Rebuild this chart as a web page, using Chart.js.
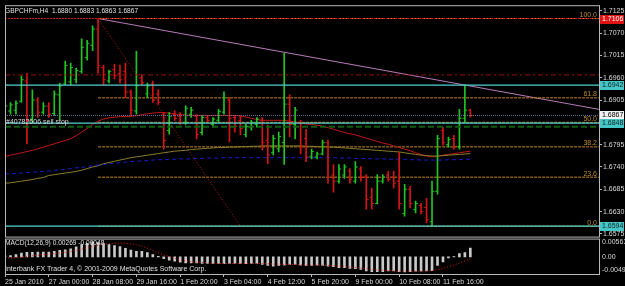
<!DOCTYPE html>
<html>
<head>
<meta charset="utf-8">
<script src="https://cdn.jsdelivr.net/npm/chart.js@4.4.1/dist/chart.umd.min.js"></script>
<style>
  html, body { margin: 0; padding: 0; background: #000; }
  canvas { display: block; }
</style>
</head>
<body>
<canvas id="mt4Chart" width="625" height="286"></canvas>
<script>
// GBPCHFm H4 bars (index 0 = 25 Jan 2010)
const symbolName = 'GBPCHFm,H4';
const barOpen = [
    1.6865, 1.6878, 1.6880, 1.6902, 1.6952, 1.6858, 1.6905, 1.6875, 1.6890, 1.6872,
    1.6918, 1.6945, 1.6950, 1.6955, 1.6975, 1.7010, 1.7040, 1.7080, 1.6985, 1.6952,
    1.6980, 1.6970, 1.6975, 1.6925, 1.6878, 1.6960, 1.6920, 1.6945, 1.6920, 1.6870,
    1.6830, 1.6870, 1.6865, 1.6850, 1.6870, 1.6865, 1.6825, 1.6862, 1.6845, 1.6855,
    1.6875, 1.6905, 1.6862, 1.6855, 1.6820, 1.6838, 1.6845, 1.6855, 1.6805, 1.6775,
    1.6785, 1.6800, 1.6895, 1.6845, 1.6850, 1.6810, 1.6765, 1.6765, 1.6772, 1.6800,
    1.6720, 1.6705, 1.6720, 1.6730, 1.6705, 1.6735, 1.6715, 1.6665, 1.6650, 1.6705,
    1.6720, 1.6715, 1.6705, 1.6625, 1.6685, 1.6635, 1.6645, 1.6640, 1.6605, 1.6680,
    1.6830, 1.6795, 1.6810, 1.6790, 1.6860, 1.6880
];
const barHigh = [
    1.6899, 1.6899, 1.6903, 1.6964, 1.6971, 1.6930, 1.6911, 1.6899, 1.6899, 1.6928,
    1.6947, 1.7001, 1.6996, 1.6984, 1.7056, 1.7052, 1.7088, 1.7106, 1.6991, 1.6979,
    1.6993, 1.6991, 1.6996, 1.6930, 1.7025, 1.6967, 1.6947, 1.6952, 1.6930, 1.6874,
    1.6874, 1.6879, 1.6874, 1.6891, 1.6887, 1.6870, 1.6867, 1.6867, 1.6862, 1.6882,
    1.6925, 1.6911, 1.6867, 1.6867, 1.6845, 1.6855, 1.6862, 1.6862, 1.6843, 1.6818,
    1.6826, 1.7020, 1.6918, 1.6887, 1.6855, 1.6833, 1.6784, 1.6777, 1.6806, 1.6806,
    1.6746, 1.6746, 1.6746, 1.6736, 1.6753, 1.6741, 1.6721, 1.6688, 1.6721, 1.6721,
    1.6729, 1.6729, 1.6777, 1.6697, 1.6692, 1.6656, 1.6651, 1.6663, 1.6705, 1.6818,
    1.6838, 1.6814, 1.6818, 1.6882, 1.6942, 1.6883
];
const barLow = [
    1.6857, 1.6870, 1.6870, 1.6899, 1.6797, 1.6850, 1.6862, 1.6870, 1.6862, 1.6867,
    1.6857, 1.6942, 1.6942, 1.6947, 1.6971, 1.7003, 1.7027, 1.6971, 1.6942, 1.6947,
    1.6957, 1.6947, 1.6911, 1.6867, 1.6870, 1.6942, 1.6911, 1.6899, 1.6894, 1.6784,
    1.6821, 1.6855, 1.6845, 1.6845, 1.6862, 1.6809, 1.6819, 1.6850, 1.6838, 1.6850,
    1.6870, 1.6802, 1.6826, 1.6819, 1.6814, 1.6831, 1.6838, 1.6782, 1.6748, 1.6770,
    1.6777, 1.6746, 1.6814, 1.6809, 1.6772, 1.6753, 1.6760, 1.6760, 1.6770, 1.6700,
    1.6678, 1.6700, 1.6712, 1.6700, 1.6700, 1.6705, 1.6636, 1.6636, 1.6649, 1.6700,
    1.6705, 1.6688, 1.6636, 1.6619, 1.6639, 1.6627, 1.6624, 1.6602, 1.6594, 1.6673,
    1.6794, 1.6789, 1.6784, 1.6784, 1.6850, 1.6863
];
const barClose = [
    1.6890, 1.6893, 1.6897, 1.6955, 1.6855, 1.6905, 1.6875, 1.6890, 1.6870, 1.6920,
    1.6940, 1.6990, 1.6985, 1.6978, 1.7035, 1.7045, 1.7080, 1.6990, 1.6955, 1.6975,
    1.6965, 1.6955, 1.6925, 1.6880, 1.6940, 1.6948, 1.6940, 1.6905, 1.6900, 1.6805,
    1.6865, 1.6860, 1.6850, 1.6885, 1.6880, 1.6820, 1.6862, 1.6855, 1.6858, 1.6877,
    1.6910, 1.6860, 1.6840, 1.6835, 1.6840, 1.6850, 1.6858, 1.6800, 1.6770, 1.6810,
    1.6815, 1.6895, 1.6845, 1.6880, 1.6790, 1.6765, 1.6778, 1.6772, 1.6800, 1.6715,
    1.6705, 1.6735, 1.6740, 1.6710, 1.6740, 1.6715, 1.6660, 1.6650, 1.6705, 1.6715,
    1.6710, 1.6700, 1.6650, 1.6685, 1.6650, 1.6650, 1.6630, 1.6610, 1.6680, 1.6810,
    1.6800, 1.6808, 1.6790, 1.6860, 1.6880, 1.6867
];

// Moving averages
const maRed = [
    1.6766, 1.6769, 1.6772, 1.6775, 1.6778, 1.6781, 1.6785, 1.6789, 1.6793, 1.6797,
    1.6801, 1.6805, 1.6810, 1.6817, 1.6826, 1.6835, 1.6845, 1.6853, 1.6858, 1.6861,
    1.6863, 1.6864, 1.6864, 1.6865, 1.6866, 1.6869, 1.6871, 1.6873, 1.6874, 1.6874,
    1.6873, 1.6871, 1.6869, 1.6868, 1.6867, 1.6867, 1.6867, 1.6867, 1.6867, 1.6867,
    1.6867, 1.6867, 1.6867, 1.6866, 1.6863, 1.6860, 1.6857, 1.6855, 1.6855, 1.6855,
    1.6855, 1.6855, 1.6853, 1.6851, 1.6849, 1.6846, 1.6845, 1.6843, 1.6841, 1.6837,
    1.6833, 1.6829, 1.6825, 1.6822, 1.6819, 1.6815, 1.6811, 1.6807, 1.6803, 1.6799,
    1.6796, 1.6792, 1.6788, 1.6784, 1.6780, 1.6775, 1.6771, 1.6767, 1.6765, 1.6766,
    1.6769, 1.6771, 1.6773, 1.6775, 1.6777, 1.6779
];
const maOlive = [
    1.6700, 1.6701, 1.6703, 1.6705, 1.6707, 1.6709, 1.6712, 1.6714, 1.6719, 1.6721,
    1.6723, 1.6725, 1.6727, 1.6729, 1.6732, 1.6736, 1.6740, 1.6743, 1.6748, 1.6751,
    1.6754, 1.6757, 1.6760, 1.6763, 1.6765, 1.6767, 1.6769, 1.6771, 1.6773, 1.6775,
    1.6777, 1.6779, 1.6780, 1.6781, 1.6783, 1.6784, 1.6785, 1.6786, 1.6787, 1.6788,
    1.6788, 1.6789, 1.6789, 1.6790, 1.6790, 1.6791, 1.6791, 1.6792, 1.6792, 1.6792,
    1.6792, 1.6792, 1.6792, 1.6792, 1.6792, 1.6791, 1.6791, 1.6790, 1.6790, 1.6789,
    1.6789, 1.6788, 1.6787, 1.6786, 1.6785, 1.6784, 1.6783, 1.6782, 1.6781, 1.6780,
    1.6779, 1.6778, 1.6777, 1.6775, 1.6773, 1.6771, 1.6769, 1.6768, 1.6767, 1.6767,
    1.6768, 1.6769, 1.6770, 1.6771, 1.6772, 1.6773
];
const maBlue = [
    1.6723, 1.6723, 1.6724, 1.6725, 1.6726, 1.6727, 1.6728, 1.6729, 1.6730, 1.6731,
    1.6733, 1.6734, 1.6736, 1.6738, 1.6739, 1.6741, 1.6743, 1.6745, 1.6746, 1.6748,
    1.6749, 1.6750, 1.6752, 1.6753, 1.6754, 1.6755, 1.6756, 1.6757, 1.6758, 1.6758,
    1.6759, 1.6759, 1.6760, 1.6760, 1.6760, 1.6761, 1.6761, 1.6762, 1.6762, 1.6762,
    1.6763, 1.6763, 1.6763, 1.6763, 1.6763, 1.6763, 1.6763, 1.6763, 1.6763, 1.6763,
    1.6763, 1.6763, 1.6763, 1.6763, 1.6763, 1.6763, 1.6763, 1.6763, 1.6763, 1.6763,
    1.6763, 1.6762, 1.6762, 1.6762, 1.6761, 1.6761, 1.6761, 1.6760, 1.6760, 1.6760,
    1.6759, 1.6759, 1.6759, 1.6759, 1.6758, 1.6758, 1.6757, 1.6757, 1.6757, 1.6757,
    1.6757, 1.6758, 1.6758, 1.6758, 1.6759, 1.6759
];

// MACD(12,26,9): histogram and signal
const macdHist = [
    0.0003, 0.0004, 0.0007, 0.0012, 0.0014, 0.0014, 0.0015, 0.0015, 0.0015, 0.0017,
    0.0020, 0.0022, 0.0025, 0.0031, 0.0038, 0.0042, 0.0046, 0.0044, 0.0041, 0.0038,
    0.0035, 0.0032, 0.0026, 0.0021, 0.0017, 0.0017, 0.0013, 0.0007, 0.0002, -0.0005,
    -0.0010, -0.0013, -0.0016, -0.0018, -0.0018, -0.0018, -0.0020, -0.0020, -0.0020, -0.0020,
    -0.0021, -0.0020, -0.0020, -0.0020, -0.0021, -0.0020, -0.0020, -0.0023, -0.0026, -0.0028,
    -0.0026, -0.0025, -0.0023, -0.0023, -0.0025, -0.0026, -0.0026, -0.0025, -0.0026, -0.0028,
    -0.0030, -0.0033, -0.0033, -0.0035, -0.0036, -0.0038, -0.0043, -0.0045, -0.0045, -0.0045,
    -0.0043, -0.0043, -0.0045, -0.0046, -0.0045, -0.0044, -0.0044, -0.0043, -0.0042, -0.0026,
    -0.0015, -0.0003, 0.0001, 0.0010, 0.0013, 0.00269
];
const macdSignal = [
    -0.0003, -0.0003, -0.0002, -0.0001, 0.0002, 0.0004, 0.0005, 0.0007, 0.0009, 0.0010,
    0.0012, 0.0014, 0.0017, 0.0020, 0.0024, 0.0028, 0.0032, 0.0036, 0.0038, 0.0041,
    0.0042, 0.0042, 0.0042, 0.0040, 0.0037, 0.0033, 0.0027, 0.0020, 0.0013, 0.0006,
    0.0001, -0.0004, -0.0009, -0.0012, -0.0015, -0.0016, -0.0017, -0.0018, -0.0019, -0.0020,
    -0.0020, -0.0020, -0.0020, -0.0020, -0.0020, -0.0020, -0.0020, -0.0020, -0.0021, -0.0022,
    -0.0022, -0.0023, -0.0023, -0.0023, -0.0024, -0.0024, -0.0025, -0.0025, -0.0025, -0.0026,
    -0.0027, -0.0028, -0.0029, -0.0031, -0.0032, -0.0034, -0.0036, -0.0038, -0.0040, -0.0041,
    -0.0042, -0.0043, -0.0044, -0.0044, -0.0044, -0.0044, -0.0044, -0.0043, -0.0042, -0.0039,
    -0.0035, -0.0030, -0.0025, -0.0019, -0.0012, -0.00048
];

// Axis labels
const timeTickBars = [0, 8, 16, 24, 32, 40, 48, 56, 64, 72, 80];
const timeLabels = ['25 Jan 2010', '27 Jan 00:00', '28 Jan 08:00', '29 Jan 16:00', '1 Feb 20:00',
    '3 Feb 04:00', '4 Feb 12:00', '5 Feb 20:00', '9 Feb 00:00', '10 Feb 08:00', '11 Feb 16:00'];
const priceTicks = [1.6575, 1.6630, 1.6685, 1.6740, 1.6795, 1.6850, 1.6905, 1.6960, 1.7015, 1.7070, 1.7125];
const macdTicks = [-0.00493, 0, 0.00563];

// Objects on the chart
const fibLevels = [0, 23.6, 38.2, 50, 61.8, 100];
const fibFrom = { bar: 17, price: 1.7106 };
const fibTo = { bar: 43, price: 1.6594 };
const trendFrom = { bar: 17, price: 1.7106 };
const trendTo = { bar: 84, price: 1.6942 };
const redLevel = 1.7106;
const dashLevel = 1.6967;
const cyanLevels = [1.6942, 1.6848, 1.6594];
const stopLevel = 1.6839;
const orderText = '#40782606 sell stop';

// Scale limits
const X_MIN = 0, X_MAX = 108.5;
const PRICE_MIN = 1.65684, PRICE_MAX = 1.71388;
const MACD_MIN = -0.00523, MACD_MAX = 0.00623;

const UP = '#21c421', DOWN = '#d41515';
const FONT = '"Liberation Sans", Arial, sans-serif';
const lastBar = barClose.length - 1;
const bidPrice = barClose[lastBar];
const barColors = barClose.map((c, i) => c >= barOpen[i] ? UP : DOWN);

// Helper for straight line datasets
function segment(x1, y1, x2, y2, color, dash, width, order) {
    return {
        type: 'line', yAxisID: 'y',
        data: [{ x: x1, y: y1 }, { x: x2, y: y2 }],
        borderColor: color, borderWidth: width || 1, borderDash: dash || [],
        pointRadius: 0, order: order || 3
    };
}

const datasets = [];

// Horizontal lines (on top of bars)
datasets.push(segment(X_MIN, redLevel, X_MAX, redLevel, '#c81414', [2, 1], 1, 2));
datasets.push(segment(X_MIN, dashLevel, X_MAX, dashLevel, '#9a1010', [5, 3, 2, 3], 1, 2));
cyanLevels.forEach(v => datasets.push(segment(X_MIN, v, X_MAX, v, '#52d2d2', [], 1.2, 2)));
datasets.push(segment(X_MIN, bidPrice, X_MAX, bidPrice, '#6a7598', [1, 1], 1, 2));
datasets.push(segment(X_MIN, stopLevel, X_MAX, stopLevel, '#0f5f0f', [6, 3], 2, 3));

// Fibonacci retracement
const fibRange = fibFrom.price - fibTo.price;
fibLevels.forEach(l => {
    const p = fibTo.price + fibRange * l / 100;
    datasets.push(segment(fibFrom.bar, p, X_MAX, p, '#c4871a', [3, 1], 1, 8));
});
datasets.push(segment(fibFrom.bar, fibFrom.price, fibTo.bar, fibTo.price, '#c01818', [1, 2], 1, 8));

// Trend line, drawn as a ray to the right edge
const trendSlope = (trendTo.price - trendFrom.price) / (trendTo.bar - trendFrom.bar);
datasets.push(segment(trendFrom.bar, trendFrom.price, X_MAX,
    trendFrom.price + trendSlope * (X_MAX - trendFrom.bar), '#b77ab7', [], 1, 8));

// Moving averages
datasets.push({ type: 'line', yAxisID: 'y', data: maBlue.map((v, i) => ({ x: i, y: v })),
    borderColor: '#1a1ad0', borderWidth: 1, borderDash: [4, 3], pointRadius: 0, order: 7 });
datasets.push({ type: 'line', yAxisID: 'y', data: maOlive.map((v, i) => ({ x: i, y: v })),
    borderColor: '#8a7d2c', borderWidth: 1, pointRadius: 0, order: 7 });
datasets.push({ type: 'line', yAxisID: 'y', data: maRed.map((v, i) => ({ x: i, y: v })),
    borderColor: '#c01818', borderWidth: 1, pointRadius: 0, order: 7 });

// OHLC bars: high-low stem plus open/close ticks
datasets.push({ type: 'bar', yAxisID: 'y', grouped: false, barThickness: 1,
    data: barHigh.map((h, i) => ({ x: i, y: [barLow[i], h] })),
    backgroundColor: barColors, order: 5 });
datasets.push({ type: 'scatter', yAxisID: 'y', pointStyle: 'line', pointRadius: 1.2,
    data: barOpen.map((o, i) => ({ x: i - 0.2, y: o })),
    pointBorderColor: barColors, pointBackgroundColor: barColors, pointBorderWidth: 1, order: 4 });
datasets.push({ type: 'scatter', yAxisID: 'y', pointStyle: 'line', pointRadius: 1.2,
    data: barClose.map((c, i) => ({ x: i + 0.2, y: c })),
    pointBorderColor: barColors, pointBackgroundColor: barColors, pointBorderWidth: 1, order: 4 });

// MACD pane
datasets.push({ type: 'line', yAxisID: 'macd', data: macdSignal.map((v, i) => ({ x: i, y: v })),
    borderColor: '#e01414', borderWidth: 1, borderDash: [1, 2], pointRadius: 0, order: 1 });
datasets.push({ type: 'bar', yAxisID: 'macd', grouped: false, barThickness: 2,
    data: macdHist.map((v, i) => ({ x: i, y: v })),
    backgroundColor: '#c8c8c8', order: 2 });

// Frames, texts and price tags
const mt4Plugin = {
    id: 'mt4Decor',
    beforeDraw(chart) {
        const c = chart.ctx;
        c.save();
        c.fillStyle = '#000';
        c.fillRect(0, 0, chart.width, chart.height);
        c.restore();
    },
    afterDatasetsDraw(chart) {
        const c = chart.ctx;
        const y = chart.scales.y, m = chart.scales.macd, x = chart.scales.x;
        c.save();
        c.font = '7px ' + FONT;
        c.textBaseline = 'bottom';
        c.textAlign = 'right';
        c.fillStyle = '#b98a2e';
        fibLevels.forEach(l => {
            const p = fibTo.price + fibRange * l / 100;
            c.fillText(l.toFixed(1), x.right - 2, y.getPixelForValue(p));
        });

        c.textAlign = 'left';
        c.textBaseline = 'middle';
        c.fillStyle = '#d8d8d8';
        c.fillText(orderText, 6, y.getPixelForValue(cyanLevels[1]) - 1);

        c.fillStyle = '#e0e0e0';
        const ohlc = [barOpen[lastBar], barHigh[lastBar], barLow[lastBar], barClose[lastBar]]
            .map(v => v.toFixed(4)).join(' ');
        c.font = '6.6px ' + FONT;
        c.fillText(symbolName + '  ' + ohlc, 5, y.top + 6);
        c.fillText('MACD(12,26,9) ' + macdHist[lastBar].toFixed(5) + ' ' + macdSignal[lastBar].toFixed(5),
            5, m.top + 7);
        c.font = '7px ' + FONT;
        c.fillText('Interbank FX Trader 4, \u00a9 2001-2009 MetaQuotes Software Corp.', 5, m.bottom - 5);
        c.restore();
    },
    afterDraw(chart) {
        const c = chart.ctx;
        const y = chart.scales.y, m = chart.scales.macd, x = chart.scales.x;
        c.save();
        // pane frames
        c.strokeStyle = '#b8b8b8';
        c.lineWidth = 1;
        c.strokeRect(x.left + 0.5, y.top + 0.5, x.right - x.left, y.bottom - y.top);
        c.strokeRect(x.left + 0.5, m.top + 2.5, x.right - x.left, m.bottom - m.top - 2);

        // MACD scale labels
        c.font = '7px ' + FONT;
        c.fillStyle = '#d8d8d8';
        c.textAlign = 'left';
        macdTicks.forEach(v => {
            c.textBaseline = v > 0 ? 'top' : (v < 0 ? 'bottom' : 'middle');
            const py = v > 0 ? m.top + 2 : (v < 0 ? m.bottom : m.getPixelForValue(v));
            c.fillText(v === 0 ? '0.00' : v.toFixed(5), x.right + 3, py);
        });

        // price tags on the right axis
        const tags = [
            { v: redLevel, bg: '#e01414', fg: '#ffffff' },
            { v: cyanLevels[0], bg: '#45c6c6', fg: '#102020' },
            { v: bidPrice, bg: '#f4f4f4', fg: '#000000' },
            { v: cyanLevels[1], bg: '#45c6c6', fg: '#102020' },
            { v: cyanLevels[2], bg: '#45c6c6', fg: '#102020' }
        ];
        c.textBaseline = 'middle';
        tags.forEach(t => {
            const py = Math.round(y.getPixelForValue(t.v));
            c.fillStyle = t.bg;
            c.fillRect(x.right + 1, py - 4, 24, 9);
            c.fillStyle = t.fg;
            c.fillText(t.v.toFixed(4), x.right + 3, py + 0.5);
        });
        c.restore();
    }
};

new Chart(document.getElementById('mt4Chart'), {
    type: 'line',
    data: { datasets: datasets },
    options: {
        responsive: false,
        animation: false,
        events: [],
        layout: { padding: { left: 2, top: 1, right: 0, bottom: 0 } },
        plugins: { legend: { display: false }, tooltip: { enabled: false } },
        scales: {
            x: {
                type: 'linear', min: X_MIN, max: X_MAX, offset: false,
                grid: { drawOnChartArea: false, drawTicks: true, tickLength: 3, color: '#b8b8b8', offset: false },
                border: { display: false },
                ticks: {
                    autoSkip: false, maxRotation: 0, align: 'start', padding: 1,
                    color: '#d8d8d8', font: { family: FONT, size: 7 },
                    callback: v => timeLabels[timeTickBars.indexOf(v)] || ''
                },
                afterBuildTicks: s => { s.ticks = timeTickBars.map(v => ({ value: v })); },
                afterFit: s => { s.height = 12; }
            },
            y: {
                type: 'linear', position: 'right', stack: 'panes', stackWeight: 235,
                min: PRICE_MIN, max: PRICE_MAX,
                grid: { drawOnChartArea: false, drawTicks: true, tickLength: 3, color: '#b8b8b8' },
                border: { display: false },
                ticks: {
                    padding: 1, color: '#d8d8d8', font: { family: FONT, size: 7 },
                    callback: v => v.toFixed(4)
                },
                afterBuildTicks: s => { s.ticks = priceTicks.map(v => ({ value: v })); },
                afterFit: s => { s.width = 26; }
            },
            macd: {
                type: 'linear', position: 'right', stack: 'panes', stackWeight: 38,
                min: MACD_MIN, max: MACD_MAX,
                grid: { display: false },
                border: { display: false },
                ticks: { display: false },
                afterFit: s => { s.width = 26; }
            }
        }
    },
    plugins: [mt4Plugin]
});
</script>
</body>
</html>
